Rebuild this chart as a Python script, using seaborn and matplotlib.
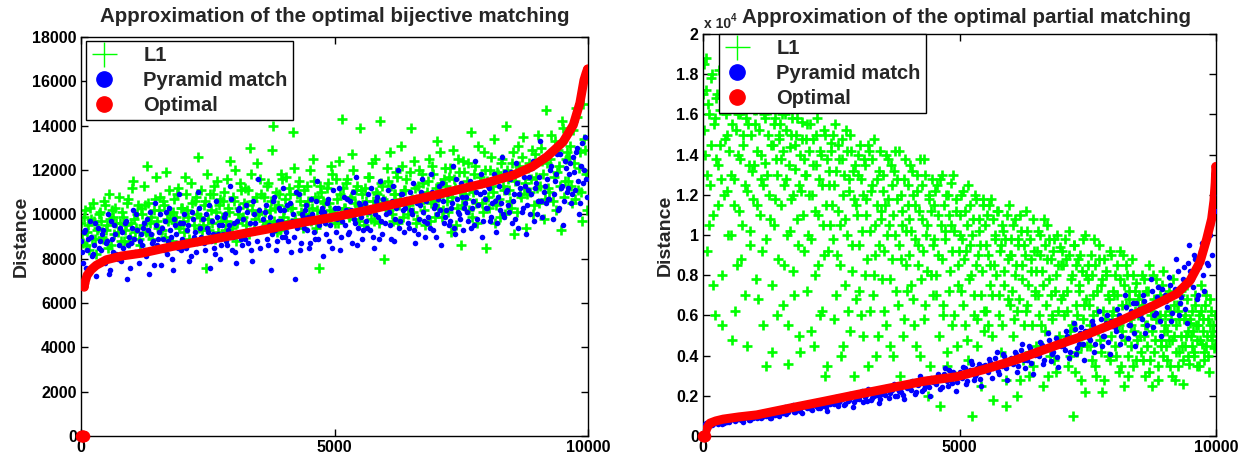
import numpy as np
import matplotlib
matplotlib.use("Agg")
import matplotlib.pyplot as plt
from matplotlib.lines import Line2D
import seaborn as sns

# ---------------- data ----------------
# Left panel: bijective matching, index of sorted example vs distance
left_idx_a = np.arange(20, 10000, 40)
left_idx_b = np.arange(0, 10000, 40)
left_l1_a = [
    9100, 9900, 8600, 9500, 10300, 8900, 9700, 8200, 9400, 10100,
    9000, 10600, 9300, 8500, 9800, 10200, 9100, 9600, 10800, 8800,
    9900, 9300, 10500, 8700, 9600, 11500, 9200, 10000, 8900, 10300,
    9500, 10400, 12200, 9100, 9900, 8500, 10700, 9700, 10200, 9300,
    10600, 9000, 9800, 11100, 8700, 10100, 9600, 10900, 9400, 10300,
    9700, 11700, 10200, 8900, 10500, 9500, 10800, 12600, 9900, 9300,
    10400, 7600, 9800, 10900, 9600, 11300, 10100, 9200, 10700, 9900,
    11000, 9700, 10300, 12400, 9400, 10600, 8800, 10000, 11400, 9800,
    10500, 9500, 11100, 13000, 10200, 9300, 10800, 10000, 11600, 9700,
    10100, 11300, 9600, 10600, 14000, 10300, 9200, 10900, 11800, 9900,
    10700, 9500, 11200, 10300, 13700, 9800, 10900, 11500, 10100, 9400,
    10400, 11300, 10000, 9700, 12500, 10800, 10200, 7600, 11000, 10600,
    9900, 11200, 10500, 12200, 10100, 11600, 9600, 10900, 14300, 10300,
    11400, 10000, 10700, 12700, 9800, 11100, 10400, 13900, 10900, 9500,
    10600, 11700, 10200, 12300, 9700, 11000, 10500, 14200, 11300, 8000,
    10300, 11500, 12800, 10000, 10900, 11900, 9600, 10700, 12200, 11100,
    11600, 10400, 13900, 10100, 11200, 9800, 12000, 10800, 11400, 9500,
    11000, 12500, 10500, 11800, 9900, 13300, 10800, 11400, 10200, 12100,
    10600, 11700, 9200, 12900, 11200, 10300, 11900, 8600, 12400, 10900,
    11500, 10200, 13700, 11000, 12200, 9600, 11700, 10500, 12800, 8500,
    10800, 12000, 11300, 13400, 10400, 11800, 9900, 12500, 11100, 14000,
    11600, 10600, 12300, 9100, 11900, 13100, 10900, 12600, 11200, 9400,
    12100, 11000, 12900, 10400, 11700, 13600, 11300, 12400, 9800, 14700,
    11200, 12500, 10600, 13300, 11900, 12200, 9300, 13900, 11500, 12800,
    12600, 11300, 13800, 10700, 14400, 12100, 11000, 15000, 12900, 10200,
]
left_l1_b = [
    9600, 8700, 10200, 9200, 8400, 9800, 10500, 8900, 9300, 10000,
    9700, 8900, 10400, 9500, 10900, 8600, 9900, 10300, 9200, 9600,
    10100, 8800, 9500, 10700, 9000, 11200, 9800, 9400, 10400, 8600,
    10000, 11300, 9200, 10500, 9600, 8900, 10200, 11700, 9400, 10800,
    9300, 10400, 11900, 9700, 10000, 8800, 10700, 9900, 11200, 9500,
    10300, 9200, 10900, 9900, 11400, 8800, 10600, 10000, 9400, 11100,
    9500, 10600, 11800, 9300, 10200, 10900, 8900, 11500, 10400, 9700,
    10600, 9300, 11600, 10100, 9500, 10800, 12000, 9600, 10300, 11100,
    9900, 11200, 10400, 9100, 11800, 10600, 9800, 12300, 10100, 10900,
    10800, 9500, 11400, 10200, 12900, 9700, 11000, 10400, 9300, 11600,
    10200, 11700, 9700, 10900, 10300, 12100, 9600, 11300, 10600, 10000,
    11100, 9800, 10600, 12000, 10300, 11500, 9400, 10800, 11300, 10100,
    10500, 9700, 11400, 10200, 11800, 9600, 10700, 12400, 10000, 11200,
    10300, 11600, 9900, 10800, 12000, 10500, 11300, 9700, 11100, 10400,
    11200, 10100, 11700, 9800, 10600, 12500, 10900, 9600, 11400, 10700,
    10600, 12100, 10200, 11300, 9700, 10900, 11700, 10400, 13100, 9900,
    11100, 10000, 11900, 10700, 12400, 9600, 11300, 10500, 11800, 10200,
    10800, 11500, 9700, 12200, 10600, 11200, 10300, 12800, 9900, 11600,
    11300, 10100, 12100, 10800, 11600, 9500, 12500, 11000, 10400, 11900,
    10700, 12300, 11200, 9900, 11800, 10500, 13100, 11400, 10100, 12000,
    11500, 10300, 12600, 11000, 9600, 11900, 10700, 12300, 11300, 10000,
    12000, 11100, 10300, 12800, 11500, 10100, 12200, 10800, 13500, 11400,
    10900, 12300, 11600, 10000, 12700, 11200, 10500, 13000, 11800, 10700,
    12300, 11000, 13600, 11700, 10200, 12900, 11300, 14200, 10800, 12500,
    11500, 13100, 10500, 12300, 14800, 11100, 12800, 9700, 13400, 11800,
]
left_pm_a = [
    8300, 9200, 7600, 8900, 9700, 8100, 8600, 7200, 9400, 8800,
    9100, 8000, 8700, 10000, 7500, 8900, 9500, 8200, 8600, 7900,
    8500, 9600, 7100, 9000, 8700, 10200, 8300, 9300, 7800, 9100,
    9400, 8400, 9800, 7300, 9100, 8800, 10500, 8600, 9200, 7700,
    8900, 9700, 8200, 10300, 9000, 7500, 9500, 8700, 10900, 8400,
    9600, 8600, 9300, 7900, 10100, 9000, 8300, 11000, 9400, 8800,
    8700, 10000, 9200, 7600, 9700, 8500, 10600, 9100, 8000, 9500,
    9900, 8800, 9300, 11300, 8400, 9600, 7800, 10200, 9100, 8600,
    9200, 10400, 8700, 9600, 7900, 10000, 9300, 11600, 8500, 9800,
    10100, 8900, 9500, 7500, 10600, 9300, 8800, 10300, 9700, 11200,
    9000, 10400, 9600, 8300, 10000, 7100, 9400, 10900, 8700, 9900,
    10200, 9300, 8500, 10700, 9800, 8900, 11500, 9500, 10100, 8100,
    9600, 10500, 8800, 9900, 11100, 9200, 10300, 8400, 9700, 10800,
    10200, 9100, 10600, 8700, 9800, 11700, 9400, 10400, 8900, 10100,
    9700, 10900, 9300, 10300, 8500, 10600, 9900, 11500, 9100, 10400,
    10000, 11100, 9500, 10600, 8800, 10300, 12000, 9700, 10900, 9200,
    10700, 9400, 10200, 11400, 8700, 10500, 9800, 11000, 10100, 9000,
    9600, 10800, 11800, 9300, 10400, 10000, 11300, 8600, 10600, 9900,
    10900, 9500, 10300, 12200, 9100, 10700, 10000, 11400, 9300, 10500,
    10100, 11200, 9400, 10600, 12400, 9800, 10900, 9000, 11000, 10300,
    11300, 9700, 10500, 11800, 9200, 10800, 10200, 12600, 9900, 11000,
    10400, 11600, 9600, 10900, 12300, 9400, 11200, 10100, 11700, 9100,
    11100, 10000, 12100, 9700, 11400, 10600, 13300, 9900, 11000, 10500,
    10700, 12000, 9800, 11500, 12700, 10300, 11200, 9500, 12400, 11000,
    11800, 10500, 12600, 11100, 13000, 10000, 12200, 11400, 13500, 10800,
]
left_pm_b = [
    8800, 7800, 9300, 8400, 7400, 9000, 8200, 9600, 7700, 8500,
    8400, 9300, 7800, 8800, 7300, 9700, 8300, 9100, 8000, 9400,
    9200, 8100, 9700, 8600, 7600, 9400, 8900, 10000, 8200, 8800,
    8600, 9600, 8100, 9300, 10100, 8700, 7700, 9500, 8900, 10000,
    9400, 8400, 10100, 8800, 9300, 8000, 9800, 9100, 8500, 9600,
    8900, 10000, 8500, 9500, 8100, 9800, 9200, 8700, 10300, 9000,
    9800, 8400, 9400, 10400, 8800, 9100, 8200, 9900, 9500, 8600,
    9100, 10000, 8600, 9500, 10700, 9000, 8300, 9700, 10300, 8900,
    9800, 8900, 10100, 9300, 8400, 10600, 9600, 8800, 10200, 9400,
    9300, 10400, 8600, 9900, 9100, 10800, 8400, 9700, 10200, 9000,
    10200, 9200, 8800, 10500, 9700, 9000, 11000, 9500, 8400, 10000,
    9400, 10400, 9900, 8700, 10000, 9200, 10600, 8900, 9700, 10300,
    10100, 9100, 10700, 9500, 8500, 10300, 9800, 11200, 9000, 10000,
    9500, 10700, 9200, 10200, 11000, 9600, 8600, 10500, 9900, 9300,
    10500, 9400, 10100, 11200, 9000, 10000, 10800, 8900, 9700, 10700,
    9600, 10500, 10100, 8900, 11300, 9800, 10400, 9400, 10900, 10200,
    10300, 9600, 11000, 10000, 9300, 10800, 9100, 10400, 11600, 9700,
    10600, 9900, 9400, 11000, 10300, 9000, 10700, 10200, 11400, 9600,
    10200, 11100, 9700, 10500, 9400, 11600, 10100, 9800, 10800, 10300,
    10800, 9700, 11500, 10300, 9500, 11000, 10400, 11800, 9700, 10700,
    10300, 11200, 9900, 11600, 10600, 9600, 11300, 10500, 10000, 11900,
    11100, 10100, 11900, 10600, 9800, 11400, 10900, 12000, 10300, 11300,
    10400, 11700, 10900, 12400, 11200, 10000, 11700, 10600, 12500, 11300,
    11600, 10700, 12200, 10900, 11800, 10200, 12700, 11300, 10600, 12100,
    11200, 12300, 10900, 11900, 12800, 11500, 10500, 13200, 12000, 11600,
]
left_opt_zero_idx = [0, 10, 20, 30, 40, 50]
left_opt_idx = [62, 80, 120, 200, 300, 500, 800, 1200, 1800, 2500, 3200, 3830,
                4400, 4950, 5600, 6230, 6900, 7540, 8000, 8530, 8900, 9190,
                9510, 9710, 9840, 9920, 9960, 9990]
left_opt_val = [6750, 6950, 7250, 7500, 7700, 7950, 8120, 8250, 8550, 8840, 9130, 9400,
                9650, 9860, 10160, 10490, 10820, 11170, 11420, 11770, 12150, 12600,
                13270, 14030, 15020, 16050, 16350, 16550]
left_opt_open_idx = [62, 72, 9975, 9985, 9992, 9998]
left_opt_open_val = [6720, 6880, 16200, 16350, 16480, 16550]

# Right panel: partial matching, distance in units of 10^4
right_l1_idx_a = np.arange(12, 10000, 25)
right_l1_idx_b = np.arange(0, 10000, 25)
right_l1_a = [
    1.85, 1.4, 1.72, 0.92, 1.6, 1.25, 1.78, 1.1, 1.55, 0.6, 1.68, 1.35, 1.82, 1.45, 0.8, 1.62, 1.2, 1.75, 1.5, 1.0,
    1.65, 1.3, 0.48, 1.7, 1.15, 1.52, 0.85, 1.6, 1.38, 1.72, 1.05, 1.45, 0.7, 1.58, 1.22, 1.67, 0.95, 1.5, 1.32, 1.62,
    1.55, 0.78, 1.42, 1.65, 1.1, 1.28, 0.55, 1.6, 1.36, 0.98, 1.5, 1.2, 1.62, 0.42, 1.45, 1.05, 1.58, 1.3, 0.88, 1.48,
    1.38, 1.6, 0.65, 1.25, 1.52, 1.0, 0.36, 1.44, 1.18, 1.58, 0.82, 1.33, 1.5, 1.08, 0.5, 1.4, 1.22, 1.56, 0.92, 1.3,
    1.48, 0.72, 1.2, 1.55, 0.98, 1.35, 0.45, 1.12, 1.5, 0.85, 1.28, 1.42, 0.62, 1.05, 1.52, 0.3, 1.38, 0.92, 1.25, 1.46,
    1.15, 1.5, 0.58, 1.32, 0.9, 1.45, 1.05, 0.4, 1.38, 1.2, 0.75, 1.52, 1.0, 1.28, 0.52, 1.42, 0.82, 1.18, 1.35, 0.68,
    1.3, 0.95, 1.45, 0.6, 1.2, 1.38, 0.8, 1.1, 0.35, 1.42, 1.02, 1.25, 0.7, 1.48, 0.9, 1.15, 0.5, 1.32, 1.08, 0.78,
    1.22, 0.62, 1.4, 1.0, 1.18, 0.45, 1.35, 0.88, 1.1, 1.42, 0.72, 1.28, 0.95, 0.3, 1.2, 1.05, 0.58, 1.38, 0.85, 1.15,
    1.08, 1.35, 0.75, 1.2, 0.55, 0.98, 1.3, 0.85, 1.12, 0.4, 1.25, 0.92, 1.38, 0.65, 1.05, 0.2, 1.18, 0.8, 1.28, 0.95,
    1.15, 0.7, 1.25, 0.9, 0.15, 1.05, 1.3, 0.6, 0.98, 1.2, 0.42, 1.1, 0.82, 1.26, 0.55, 1.02, 0.3, 1.18, 0.75, 0.92,
    1.0, 1.2, 0.65, 0.88, 1.12, 0.48, 1.25, 0.78, 0.95, 0.1, 1.08, 0.7, 1.18, 0.58, 0.9, 1.02, 0.25, 0.82, 1.15, 0.62,
    0.95, 1.1, 0.55, 0.85, 1.18, 0.7, 0.18, 1.0, 0.8, 1.12, 0.6, 0.92, 0.42, 1.05, 0.75, 0.98, 0.28, 0.88, 1.15, 0.65,
    0.9, 1.05, 0.58, 0.8, 0.2, 0.98, 0.68, 1.1, 0.85, 0.38, 0.95, 0.62, 1.02, 0.75, 0.3, 0.88, 0.55, 1.08, 0.72, 0.45,
    0.92, 0.7, 1.0, 0.55, 0.82, 0.25, 0.95, 0.65, 1.05, 0.78, 0.4, 0.88, 0.6, 0.98, 0.72, 0.32, 0.85, 0.5, 0.94, 0.68,
    0.85, 0.6, 0.98, 0.72, 0.35, 0.9, 0.52, 0.8, 0.1, 0.95, 0.65, 0.42, 0.88, 0.75, 0.28, 0.82, 0.58, 1.0, 0.68, 0.45,
    0.78, 0.55, 0.9, 0.38, 0.7, 0.85, 0.3, 0.62, 0.95, 0.48, 0.75, 0.22, 0.88, 0.58, 0.8, 0.4, 0.68, 0.92, 0.5, 0.72,
    0.7, 0.45, 0.85, 0.58, 0.32, 0.78, 0.52, 0.9, 0.25, 0.65, 0.8, 0.4, 0.72, 0.55, 0.88, 0.35, 0.62, 0.76, 0.48, 0.68,
    0.62, 0.42, 0.8, 0.5, 0.3, 0.72, 0.55, 0.85, 0.38, 0.6, 0.25, 0.68, 0.48, 0.78, 0.35, 0.58, 0.7, 0.45, 0.82, 0.52,
    0.55, 0.38, 0.7, 0.48, 0.62, 0.3, 0.78, 0.5, 0.42, 0.65, 0.35, 0.58, 0.72, 0.45, 0.26, 0.6, 0.5, 0.68, 0.4, 0.56,
    0.5, 0.62, 0.42, 0.7, 0.55, 0.35, 0.6, 0.48, 0.75, 0.52, 0.38, 0.65, 0.45, 0.58, 0.32, 0.68, 0.5, 0.55, 0.44, 0.6,
]
right_l1_b = [
    1.7, 1.52, 1.88, 1.3, 1.65, 1.05, 1.45, 1.8, 0.75, 1.58, 1.38, 1.7, 1.15, 1.62, 1.28, 0.55, 1.75, 1.48, 1.6, 1.22,
    1.42, 1.75, 1.0, 1.55, 1.28, 0.62, 1.68, 1.4, 1.12, 1.6, 0.88, 1.5, 1.7, 1.25, 0.45, 1.55, 1.35, 1.02, 1.65, 1.18,
    1.35, 1.62, 1.15, 0.68, 1.52, 1.4, 0.92, 1.25, 1.58, 0.35, 1.3, 1.65, 1.08, 1.45, 0.75, 1.55, 1.18, 1.38, 0.6, 1.5,
    1.55, 1.15, 1.42, 0.85, 1.6, 1.28, 0.55, 1.35, 1.02, 1.5, 1.2, 0.7, 1.45, 1.58, 0.95, 1.25, 0.42, 1.48, 1.1, 1.38,
    1.3, 1.55, 1.0, 1.42, 0.52, 1.2, 1.48, 0.8, 1.35, 1.58, 1.1, 0.6, 1.4, 1.25, 0.9, 1.5, 1.15, 0.35, 1.32, 1.05,
    1.42, 0.98, 1.25, 1.55, 0.7, 1.12, 1.38, 0.85, 1.48, 0.45, 1.3, 1.08, 1.42, 0.62, 1.22, 1.5, 0.95, 1.32, 0.3, 1.15,
    1.1, 1.4, 0.72, 1.28, 1.02, 0.5, 1.35, 1.18, 0.88, 1.45, 0.62, 1.22, 1.38, 0.8, 1.05, 0.4, 1.28, 0.95, 1.42, 1.12,
    1.3, 0.92, 1.15, 0.55, 1.38, 1.05, 0.78, 1.25, 0.4, 1.32, 1.0, 1.18, 0.65, 1.42, 0.88, 1.12, 0.5, 1.28, 1.02, 0.72,
    1.25, 0.9, 1.02, 1.32, 0.68, 1.15, 0.45, 1.22, 0.95, 1.38, 0.78, 1.08, 0.58, 1.3, 1.0, 0.82, 1.2, 0.35, 1.12, 0.7,
    0.98, 1.22, 0.8, 1.1, 0.5, 1.28, 0.88, 0.65, 1.15, 1.02, 0.35, 1.2, 0.72, 1.05, 0.92, 1.3, 0.6, 1.12, 0.45, 0.85,
    1.1, 0.72, 0.98, 1.22, 0.55, 0.92, 1.05, 0.38, 1.15, 0.8, 1.0, 0.6, 1.2, 0.85, 0.45, 1.08, 0.95, 0.7, 1.18, 0.52,
    1.05, 0.62, 0.9, 1.15, 0.75, 0.5, 1.08, 0.85, 0.98, 0.35, 1.12, 0.7, 0.95, 0.55, 1.02, 0.82, 0.15, 1.1, 0.68, 0.9,
    0.98, 0.72, 0.5, 1.08, 0.85, 0.62, 0.95, 0.28, 1.02, 0.78, 0.55, 0.9, 1.12, 0.65, 0.42, 0.98, 0.82, 0.35, 0.92, 0.7,
    0.82, 1.02, 0.6, 0.9, 0.45, 0.75, 1.08, 0.52, 0.88, 0.3, 0.98, 0.7, 0.58, 0.92, 0.38, 0.8, 1.0, 0.62, 0.48, 0.85,
    0.92, 0.7, 0.48, 0.88, 0.62, 1.02, 0.4, 0.78, 0.55, 0.95, 0.32, 0.85, 0.6, 0.72, 0.9, 0.45, 0.98, 0.65, 0.22, 0.8,
    0.85, 0.65, 0.45, 0.8, 0.6, 0.98, 0.35, 0.72, 0.52, 0.88, 0.42, 0.78, 0.62, 0.28, 0.82, 0.55, 0.7, 0.38, 0.9, 0.6,
    0.62, 0.8, 0.4, 0.7, 0.55, 0.92, 0.35, 0.65, 0.75, 0.48, 0.85, 0.3, 0.68, 0.58, 0.45, 0.8, 0.52, 0.72, 0.38, 0.6,
    0.7, 0.5, 0.65, 0.38, 0.78, 0.55, 0.45, 0.72, 0.32, 0.62, 0.52, 0.8, 0.42, 0.58, 0.68, 0.28, 0.6, 0.48, 0.75, 0.4,
    0.6, 0.45, 0.52, 0.72, 0.35, 0.58, 0.48, 0.65, 0.28, 0.55, 0.62, 0.42, 0.7, 0.5, 0.38, 0.58, 0.45, 0.75, 0.52, 0.36,
    0.58, 0.45, 0.52, 0.4, 0.65, 0.48, 0.55, 0.35, 0.62, 0.46, 0.58, 0.42, 0.7, 0.5, 0.4, 0.55, 0.62, 0.48, 0.52, 0.45,
]
right_pm_idx_a = np.arange(25, 10000, 50)
right_pm_idx_b = np.arange(0, 10000, 50)
right_pm_a = [
    0.045, 0.06, 0.07, 0.055, 0.075, 0.065, 0.07, 0.06, 0.08, 0.068,
    0.08, 0.09, 0.075, 0.095, 0.085, 0.07, 0.1, 0.088, 0.078, 0.092,
    0.095, 0.11, 0.088, 0.12, 0.1, 0.115, 0.09, 0.108, 0.125, 0.098,
    0.12, 0.14, 0.11, 0.135, 0.15, 0.118, 0.128, 0.145, 0.112, 0.16,
    0.14, 0.165, 0.13, 0.155, 0.175, 0.138, 0.148, 0.17, 0.125, 0.16,
    0.165, 0.19, 0.15, 0.18, 0.2, 0.16, 0.172, 0.21, 0.145, 0.185,
    0.19, 0.215, 0.17, 0.205, 0.235, 0.18, 0.2, 0.225, 0.165, 0.21,
    0.215, 0.245, 0.19, 0.23, 0.26, 0.2, 0.225, 0.255, 0.185, 0.24,
    0.24, 0.275, 0.21, 0.26, 0.3, 0.225, 0.25, 0.285, 0.2, 0.27,
    0.27, 0.31, 0.235, 0.29, 0.34, 0.25, 0.28, 0.32, 0.225, 0.3,
    0.3, 0.345, 0.26, 0.32, 0.375, 0.28, 0.31, 0.36, 0.25, 0.335,
    0.33, 0.385, 0.29, 0.36, 0.42, 0.31, 0.35, 0.4, 0.28, 0.37,
    0.37, 0.42, 0.32, 0.395, 0.46, 0.34, 0.38, 0.44, 0.31, 0.405,
    0.41, 0.47, 0.36, 0.435, 0.51, 0.375, 0.42, 0.49, 0.345, 0.45,
    0.45, 0.52, 0.39, 0.48, 0.56, 0.41, 0.46, 0.54, 0.38, 0.5,
    0.49, 0.57, 0.42, 0.52, 0.62, 0.45, 0.5, 0.6, 0.41, 0.545,
    0.54, 0.63, 0.46, 0.57, 0.7, 0.49, 0.55, 0.66, 0.45, 0.6,
    0.6, 0.7, 0.51, 0.63, 0.78, 0.54, 0.61, 0.74, 0.5, 0.67,
    0.67, 0.79, 0.57, 0.71, 0.88, 0.6, 0.69, 0.84, 0.56, 0.95,
    0.78, 0.9, 0.68, 0.84, 0.96, 0.72, 0.86, 1.0, 0.9, 1.12,
]
right_pm_b = [
    0.055, 0.065, 0.05, 0.07, 0.062, 0.075, 0.058, 0.072, 0.066, 0.078,
    0.072, 0.085, 0.09, 0.078, 0.098, 0.082, 0.088, 0.095, 0.08, 0.1,
    0.1, 0.09, 0.112, 0.095, 0.118, 0.105, 0.092, 0.12, 0.102, 0.11,
    0.125, 0.115, 0.142, 0.12, 0.132, 0.155, 0.118, 0.138, 0.125, 0.148,
    0.145, 0.158, 0.135, 0.168, 0.15, 0.14, 0.172, 0.155, 0.145, 0.165,
    0.178, 0.16, 0.195, 0.17, 0.185, 0.155, 0.19, 0.178, 0.2, 0.168,
    0.2, 0.182, 0.222, 0.195, 0.175, 0.212, 0.19, 0.23, 0.205, 0.185,
    0.228, 0.205, 0.24, 0.215, 0.25, 0.198, 0.235, 0.22, 0.205, 0.248,
    0.25, 0.23, 0.265, 0.218, 0.255, 0.28, 0.235, 0.262, 0.245, 0.29,
    0.285, 0.26, 0.3, 0.245, 0.31, 0.275, 0.33, 0.265, 0.295, 0.27,
    0.32, 0.29, 0.34, 0.275, 0.33, 0.36, 0.3, 0.34, 0.285, 0.35,
    0.355, 0.32, 0.37, 0.34, 0.39, 0.325, 0.365, 0.41, 0.34, 0.38,
    0.39, 0.36, 0.41, 0.35, 0.43, 0.38, 0.4, 0.45, 0.365, 0.42,
    0.43, 0.4, 0.455, 0.38, 0.44, 0.48, 0.41, 0.46, 0.395, 0.47,
    0.47, 0.43, 0.5, 0.42, 0.48, 0.53, 0.44, 0.51, 0.46, 0.52,
    0.52, 0.48, 0.55, 0.46, 0.53, 0.58, 0.5, 0.56, 0.47, 0.57,
    0.57, 0.52, 0.6, 0.5, 0.58, 0.64, 0.55, 0.62, 0.51, 0.66,
    0.63, 0.58, 0.67, 0.55, 0.65, 0.72, 0.6, 0.69, 0.57, 0.73,
    0.7, 0.64, 0.75, 0.61, 0.73, 0.82, 0.66, 0.78, 0.63, 0.86,
    0.82, 0.74, 0.88, 0.7, 0.92, 0.8, 0.98, 0.85, 1.05, 1.2,
]
right_opt_zero_idx = [0, 10, 20, 30]
right_opt_idx = [40, 70, 100, 136, 250, 396, 700, 1046, 1696, 2345, 2995, 3645,
                 4295, 4945, 5464, 6115, 6764, 7413, 8064, 8713, 9233, 9493,
                 9688, 9818, 9915, 9960, 9985, 9998]
right_opt_val = [0.01, 0.035, 0.05, 0.064, 0.075, 0.084, 0.095, 0.105, 0.139, 0.172, 0.206, 0.239,
                 0.272, 0.295, 0.33, 0.38, 0.44, 0.498, 0.565, 0.64, 0.707, 0.773,
                 0.866, 0.98, 1.08, 1.17, 1.26, 1.34]
right_opt_open_idx = [9978, 9985, 9990, 9994, 9997, 9999]
right_opt_open_val = [1.17, 1.2, 1.22, 1.26, 1.3, 1.34]

series_names = ["L1", "Pyramid match", "Optimal"]
titles = ["Approximation of the optimal bijective matching",
          "Approximation of the optimal partial matching"]
left_yticks = list(range(0, 18001, 2000))
right_yticks = [0, 0.2, 0.4, 0.6, 0.8, 1, 1.2, 1.4, 1.6, 1.8, 2]
xticks = [0, 5000, 10000]

GREEN = (0, 1, 0)
BLUE = (0, 0, 1)
RED = (1, 0, 0)

# ---------------- style ----------------
sns.set_theme(style="white")
plt.rcParams["font.family"] = ["Liberation Sans", "DejaVu Sans"]
plt.rcParams["font.weight"] = "bold"
plt.rcParams["axes.labelweight"] = "bold"
plt.rcParams["axes.titleweight"] = "bold"

fig = plt.figure(figsize=(12.4, 4.59), dpi=100)
axL = fig.add_axes([81 / 1240, 23 / 459, 507 / 1240, 399 / 459])
axR = fig.add_axes([703 / 1240, 23 / 459, 513 / 1240, 402 / 459])


def draw(ax, l1_sets, pm_sets, zx, ox, oy, hx, hy, top, yticks, ylabels, title,
         leg_anchor, title_pad, title_x):
    for xs, ys in l1_sets:
        sns.scatterplot(x=xs, y=ys, marker="+", color=GREEN, s=56, linewidth=1.9,
                        ax=ax, legend=False, zorder=2)
    for xs, ys in pm_sets:
        sns.scatterplot(x=xs, y=ys, marker="o", color=BLUE, s=16, linewidth=0,
                        ax=ax, legend=False, zorder=3)
    sns.lineplot(x=ox, y=oy, color=RED, linewidth=6.5, ax=ax, legend=False,
                 estimator=None, sort=False, zorder=4, solid_capstyle="round")
    sns.scatterplot(x=zx, y=[0] * len(zx), marker="o", color=RED, s=70, linewidth=0,
                    ax=ax, legend=False, zorder=5, clip_on=False)
    ax.scatter(hx, hy, s=32, facecolors="none", edgecolors=RED, linewidths=1, zorder=5)
    ax.set_xlim(0, 10000)
    ax.set_ylim(0, top)
    ax.set_xticks(xticks)
    ax.set_xticklabels([str(v) for v in xticks], fontsize=11.5, fontweight="bold")
    ax.set_yticks(yticks)
    ax.set_yticklabels(ylabels, fontsize=11.5, fontweight="bold")
    ax.tick_params(direction="in", length=5, width=1, top=True, right=True,
                   left=True, bottom=True, pad=3, colors="black")
    for sp in ax.spines.values():
        sp.set_color("black")
        sp.set_linewidth(1)
        sp.set_visible(True)
    ax.set_ylabel("Distance", fontsize=14, fontweight="bold", labelpad=2)
    ax.set_xlabel("")
    ax.set_title(title, fontsize=14.8, fontweight="bold", pad=title_pad, x=title_x)
    handles = [
        Line2D([], [], ls="", marker="+", color=GREEN, markersize=18, markeredgewidth=1),
        Line2D([], [], ls="", marker="o", color=BLUE, markersize=11),
        Line2D([], [], ls="", marker="o", color=RED, markersize=11),
    ]
    leg = ax.legend(handles, series_names, loc="upper left", bbox_to_anchor=leg_anchor,
                    fancybox=False, framealpha=1, edgecolor="black",
                    prop={"weight": "bold", "size": 14.5},
                    handletextpad=1.3, labelspacing=0.3, borderpad=0.25,
                    borderaxespad=0, handlelength=1.3)
    leg.get_frame().set_linewidth(1)
    leg.set_zorder(10)
    ax.grid(False)


draw(axL, [(left_idx_a, left_l1_a), (left_idx_b, left_l1_b)],
     [(left_idx_a, left_pm_a), (left_idx_b, left_pm_b)],
     left_opt_zero_idx, left_opt_idx, left_opt_val, left_opt_open_idx, left_opt_open_val,
     18000, left_yticks, [str(v) for v in left_yticks], titles[0],
     (5 / 507, 1 - 4 / 399), 11, 0.5)
draw(axR, [(right_l1_idx_a, right_l1_a), (right_l1_idx_b, right_l1_b)],
     [(right_pm_idx_a, right_pm_a), (right_pm_idx_b, right_pm_b)],
     right_opt_zero_idx, right_opt_idx, right_opt_val, right_opt_open_idx, right_opt_open_val,
     2, right_yticks, [f"{v:g}" for v in right_yticks], titles[1],
     (16 / 513, 1.0), 8, 0.5 + 7 / 513)
axR.text(1 / 513, 1 + 6 / 402, "x 10", transform=axR.transAxes, fontsize=10,
         fontweight="bold", ha="left", va="baseline")
axR.text(28 / 513, 1 + 13 / 402, "4", transform=axR.transAxes, fontsize=7,
         fontweight="bold", ha="left", va="baseline", zorder=0)

fig.savefig("out.png", dpi=100, facecolor="white")
